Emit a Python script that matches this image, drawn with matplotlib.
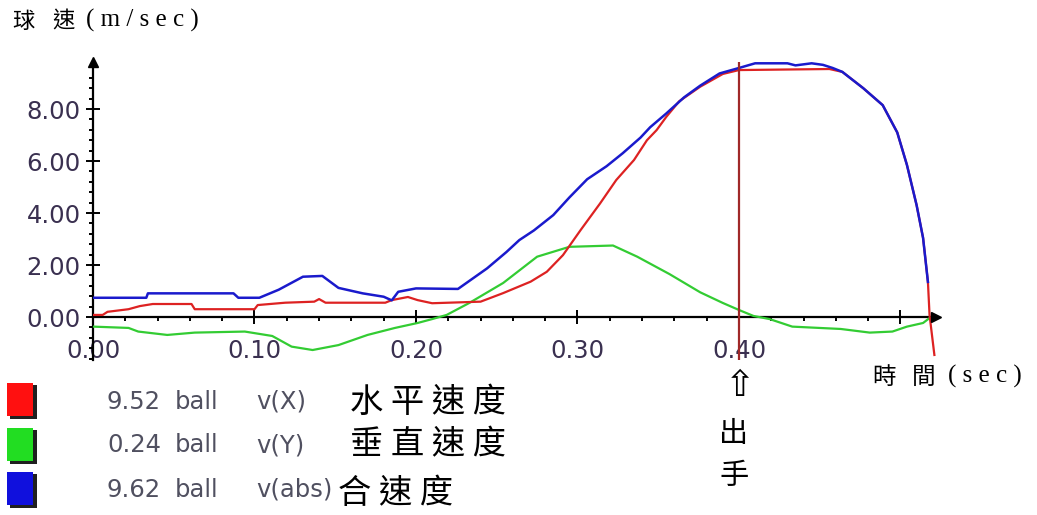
import matplotlib
matplotlib.use("Agg")
import matplotlib.pyplot as plt
from matplotlib.patches import Rectangle
from matplotlib.ticker import MultipleLocator, FixedLocator, FixedFormatter

# ---------------- data ----------------
t_abs = [0.000, 0.033, 0.034, 0.087, 0.090, 0.103, 0.115, 0.130, 0.142, 0.152, 0.167, 0.180,
         0.185, 0.189, 0.200, 0.226, 0.244, 0.256, 0.264, 0.273, 0.285, 0.295, 0.306, 0.318,
         0.328, 0.339, 0.345, 0.355, 0.366, 0.376, 0.388, 0.400, 0.410, 0.430, 0.435, 0.445,
         0.452, 0.458, 0.464, 0.477, 0.489, 0.498, 0.504, 0.510, 0.514, 0.517]
v_abs = [0.74, 0.74, 0.91, 0.91, 0.74, 0.74, 1.05, 1.55, 1.58, 1.12, 0.91, 0.78,
         0.64, 0.97, 1.10, 1.08, 1.87, 2.50, 2.96, 3.33, 3.92, 4.60, 5.30, 5.80,
         6.30, 6.90, 7.30, 7.83, 8.45, 8.90, 9.37, 9.58, 9.76, 9.76, 9.68, 9.76,
         9.70, 9.58, 9.43, 8.80, 8.15, 7.10, 5.85, 4.30, 3.04, 1.35]

t_x = [0.000, 0.006, 0.009, 0.022, 0.029, 0.037, 0.061, 0.063, 0.100, 0.102, 0.119, 0.137,
       0.140, 0.144, 0.181, 0.185, 0.195, 0.201, 0.210, 0.240, 0.254, 0.271, 0.281, 0.291,
       0.302, 0.314, 0.324, 0.335, 0.343, 0.349, 0.355, 0.363, 0.376, 0.390, 0.400, 0.456,
       0.464, 0.477, 0.489, 0.498, 0.504, 0.510, 0.514, 0.517, 0.518, 0.521]
v_x = [0.08, 0.08, 0.20, 0.30, 0.42, 0.50, 0.50, 0.30, 0.30, 0.46, 0.55, 0.59,
       0.69, 0.55, 0.55, 0.65, 0.77, 0.65, 0.53, 0.59, 0.92, 1.36, 1.74, 2.38,
       3.35, 4.37, 5.27, 6.04, 6.80, 7.19, 7.70, 8.30, 8.86, 9.35, 9.50, 9.54,
       9.43, 8.80, 8.15, 7.10, 5.85, 4.30, 3.04, 1.35, 0.08, -1.46]

t_y = [0.000, 0.022, 0.028, 0.046, 0.063, 0.094, 0.111, 0.123, 0.136, 0.152, 0.170, 0.187,
       0.201, 0.210, 0.219, 0.233, 0.254, 0.275, 0.295, 0.322, 0.337, 0.357, 0.376, 0.390,
       0.400, 0.409, 0.419, 0.433, 0.463, 0.481, 0.495, 0.504, 0.514, 0.518]
v_y = [-0.37, -0.42, -0.56, -0.69, -0.60, -0.56, -0.73, -1.14, -1.27, -1.08, -0.69, -0.42,
       -0.23, -0.08, 0.08, 0.54, 1.31, 2.32, 2.70, 2.75, 2.32, 1.65, 0.95, 0.54,
       0.27, 0.04, -0.08, -0.37, -0.46, -0.60, -0.56, -0.37, -0.23, -0.04]

release_t = 0.40
x_ticks = [0.0, 0.1, 0.2, 0.3, 0.4, 0.5]
x_tick_labels = ["0.00", "0.10", "0.20", "0.30", "0.40", ""]
y_ticks = [0, 2, 4, 6, 8]
y_tick_labels = ["0.00", "2.00", "4.00", "6.00", "8.00"]

legend_values = ["9.52", "0.24", "9.62"]
legend_names = ["v(X)", "v(Y)", "v(abs)"]
legend_zh = ["水 平 速 度", "垂 直 速 度", "合 速 度"]
legend_colors = ["#ff1010", "#22dd22", "#1010dd"]

y_title_zh = ["球", "速"]
x_title_zh = ["時", "間"]
y_unit = "( m / s e c )"
x_unit = "( s e c )"

# ---------------- figure ----------------
W, H = 1037, 515
fig = plt.figure(figsize=(W / 100, H / 100), dpi=100)
fig.patch.set_facecolor("white")

def fx(px):
    return px / W

def fy(py):
    return 1 - py / H

ax = fig.add_axes([fx(93), fy(360), (936 - 93) / W, (360 - 62) / H])
ax.set_xlim(0, 0.522)
ax.set_ylim(-1.654, 9.81)

ax.plot(t_y, v_y, color="#33cc33", lw=1.6, zorder=3)
ax.plot(t_x, v_x, color="#dd2222", lw=1.6, zorder=4)
ax.plot(t_abs, v_abs, color="#1a1acc", lw=1.8, zorder=5)
ax.axvline(release_t, color="#a02828", lw=1.6, zorder=6)

for s in ["top", "right"]:
    ax.spines[s].set_visible(False)
ax.spines["bottom"].set_position(("data", 0))
ax.spines["left"].set_position(("data", 0))
ax.spines["bottom"].set_linewidth(1.6)
ax.spines["left"].set_linewidth(1.6)
ax.spines["bottom"].set_zorder(2)
ax.spines["left"].set_zorder(2)

ax.xaxis.set_major_locator(FixedLocator(x_ticks))
ax.xaxis.set_major_formatter(FixedFormatter(x_tick_labels))
ax.xaxis.set_minor_locator(MultipleLocator(0.02))
ax.yaxis.set_major_locator(FixedLocator(y_ticks))
ax.yaxis.set_major_formatter(FixedFormatter(y_tick_labels))
ax.yaxis.set_minor_locator(MultipleLocator(0.4))

tick_color = "#3a3050"
ax.tick_params(axis="x", which="major", direction="inout", length=10, width=1.4,
               labelsize=17.5, labelcolor=tick_color, pad=11)
ax.tick_params(axis="x", which="minor", direction="out", length=3, width=1.4)
ax.tick_params(axis="y", which="major", direction="inout", length=10, width=1.4,
               labelsize=17.5, labelcolor=tick_color, pad=4)
ax.tick_params(axis="y", which="minor", direction="out", length=3, width=1.4)

# axis arrows
ax.plot(1, 0, marker=">", color="black", markersize=7,
        transform=ax.get_yaxis_transform(), clip_on=False, zorder=7)
ax.plot(0, 1, marker="^", color="black", markersize=7,
        transform=ax.get_xaxis_transform(), clip_on=False, zorder=7)

# ---------------- texts ----------------
zh = ["Noto Sans CJK TC", "DejaVu Sans"]
serif = ["Liberation Serif", "DejaVu Serif"]

fig.text(fx(12), fy(21), y_title_zh[0], family=zh, fontsize=16, ha="left", va="center")
fig.text(fx(52), fy(21), y_title_zh[1], family=zh, fontsize=16, ha="left", va="center")
fig.text(fx(86), fy(20), y_unit, family=serif, fontsize=18, ha="left", va="center")

fig.text(fx(872), fy(377), x_title_zh[0], family=zh, fontsize=17, ha="left", va="center")
fig.text(fx(912), fy(377), x_title_zh[1], family=zh, fontsize=17, ha="left", va="center")
fig.text(fx(948), fy(376), x_unit, family=serif, fontsize=18, ha="left", va="center")

fig.text(fx(740), fy(386), "⇧", family=["DejaVu Sans"], fontsize=26,
         ha="center", va="center", color="black")
fig.text(fx(734), fy(434), "出", family=zh, fontsize=21, ha="center", va="center")
fig.text(fx(734), fy(476), "手", family=zh, fontsize=21, ha="center", va="center")

row_y = [402, 445, 490]
sq_top = [383, 428, 472]
zh_x = [350, 350, 338]
for i in range(3):
    # shadowed square
    fig.patches.append(Rectangle((fx(10), fy(sq_top[i] + 36)), 27 / W, 34 / H,
                                 transform=fig.transFigure, facecolor="#202020",
                                 edgecolor="none"))
    fig.patches.append(Rectangle((fx(7), fy(sq_top[i] + 33)), 26 / W, 33 / H,
                                 transform=fig.transFigure, facecolor=legend_colors[i],
                                 edgecolor="none"))
    fig.text(fx(107), fy(row_y[i]), legend_values[i], fontsize=17.5, color="#505060",
             ha="left", va="center")
    fig.text(fx(175), fy(row_y[i]), "ball", fontsize=17.5, color="#505060",
             ha="left", va="center")
    fig.text(fx(256), fy(row_y[i]), legend_names[i], fontsize=17.5, color="#505060",
             ha="left", va="center")
    fig.text(fx(zh_x[i]), fy(row_y[i] + (3 if i == 2 else 0)), legend_zh[i], family=zh,
             fontsize=24, ha="left", va="center", color="black")

fig.savefig("out.png", dpi=100, facecolor="white")
